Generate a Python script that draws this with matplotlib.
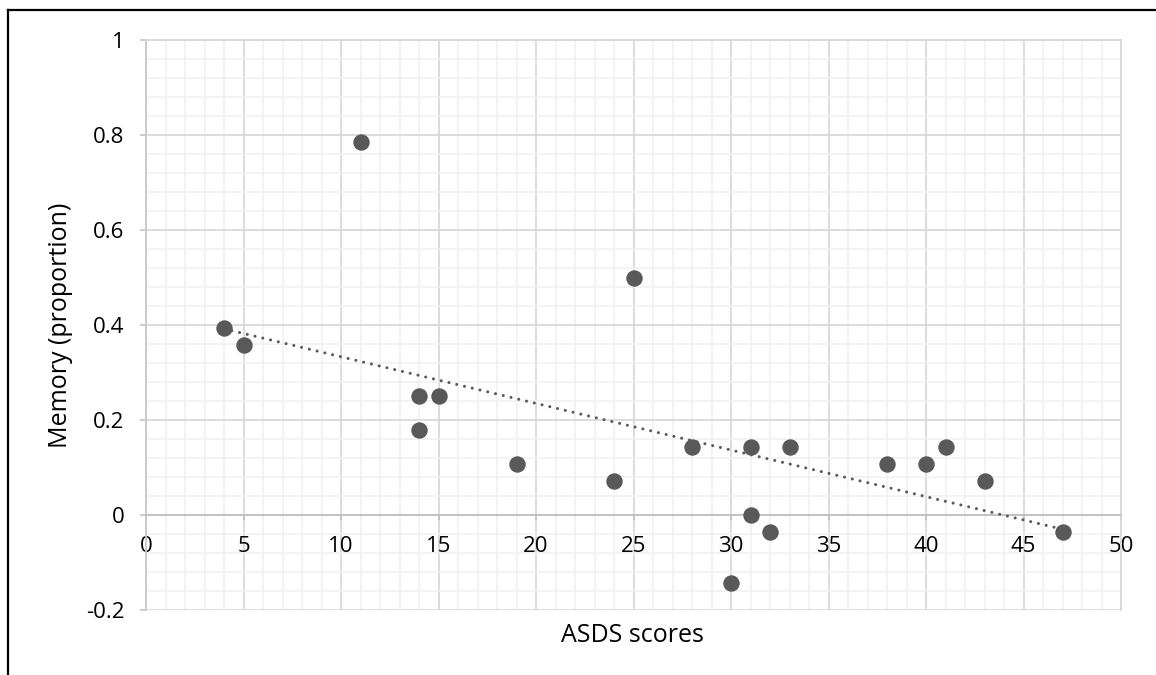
import numpy as np
import matplotlib.pyplot as plt
from matplotlib.ticker import MultipleLocator
from matplotlib.lines import Line2D

# ASDS scores and memory proportion
asds = [4, 5, 11, 14, 14, 15, 19, 24, 25, 28, 30, 31, 31, 32, 33, 38, 40, 41, 43, 47]
memory = [0.393, 0.357, 0.786, 0.25, 0.179, 0.25, 0.107, 0.071, 0.5, 0.143,
          -0.143, 0.143, 0.0, -0.036, 0.143, 0.107, 0.107, 0.143, 0.071, -0.036]

# linear trendline end points, as shown on the chart
trend_x = [4, 47]
trend_y = [0.392, -0.030]

x_ticks = list(range(0, 51, 5))
y_ticks = [-0.2, 0, 0.2, 0.4, 0.6, 0.8, 1]
y_tick_labels = ['-0.2', '0', '0.2', '0.4', '0.6', '0.8', '1']

x_label = 'ASDS scores'
y_label = 'Memory (proportion)'

plt.rcParams['font.family'] = ['Open Sans', 'DejaVu Sans']

W, H = 1156, 675
fig = plt.figure(figsize=(W / 100, H / 100), dpi=100)
ax = fig.add_axes([146 / W, 1 - 610 / H, 975 / W, 570 / H])

# dotted trendline
ax.plot(trend_x, trend_y, color='#595959', linewidth=2.2,
        linestyle=(0, (0.01, 2.6)), dash_capstyle='round', zorder=3)

ax.scatter(asds, memory, s=140, color='#595959', zorder=4, linewidths=0)

ax.set_xlim(0, 50)
ax.set_ylim(-0.2, 1.0)
ax.xaxis.set_minor_locator(MultipleLocator(1))
ax.yaxis.set_minor_locator(MultipleLocator(0.04))
ax.set_xticks(x_ticks)
ax.set_xticklabels([str(v) for v in x_ticks])
ax.set_yticks(y_ticks)
ax.set_yticklabels(y_tick_labels)

ax.grid(which='major', color='#d9d9d9', linewidth=1.3)
ax.grid(which='minor', color='#f0f0f0', linewidth=1.1)
ax.set_axisbelow(True)

for side in ['top', 'right']:
    ax.spines[side].set_color('#d9d9d9')
    ax.spines[side].set_linewidth(1.3)
ax.spines['left'].set_color('#c8c8c8')
ax.spines['left'].set_linewidth(1.3)
ax.spines['bottom'].set_position(('data', 0))
ax.spines['bottom'].set_color('#c0c0c0')
ax.spines['bottom'].set_linewidth(1.3)

ax.tick_params(axis='x', which='major', direction='out', length=3.6, width=1.3,
               color='#c0c0c0', labelsize=16, pad=11.5, labelcolor='black')
ax.tick_params(axis='y', which='major', direction='out', length=4.3, width=1.3,
               color='#c8c8c8', labelsize=16, pad=11, labelcolor='black')
ax.tick_params(which='minor', length=0)

fig.text(632 / W, 1 - 635 / H, x_label, ha='center', va='center', fontsize=18)
fig.text(61 / W, 1 - 325 / H, y_label, ha='center', va='center',
         rotation=90, fontsize=18)

# outer frame (only top and left edges are visible)
fig.add_artist(Line2D([8 / W, 1], [1 - 10 / H, 1 - 10 / H], color='black',
                      linewidth=1.6, transform=fig.transFigure))
fig.add_artist(Line2D([8 / W, 8 / W], [1 - 10 / H, 0], color='black',
                      linewidth=1.6, transform=fig.transFigure))

fig.savefig('out.png', dpi=100)
